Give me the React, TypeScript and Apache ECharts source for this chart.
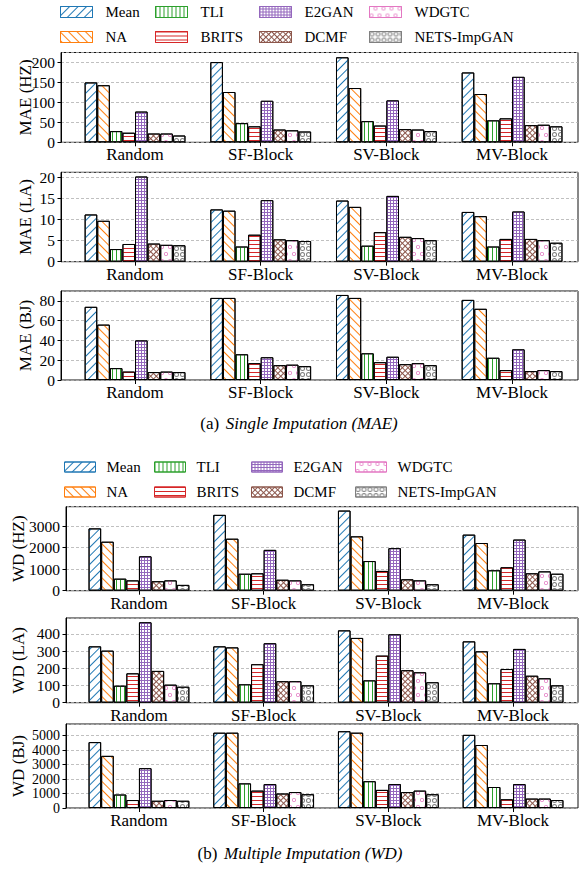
import React, { useEffect, useRef } from 'react';
import * as echarts from 'echarts';

const categories = ['Random', 'SF-Block', 'SV-Block', 'MV-Block'];
const methods = ['Mean', 'NA', 'TLI', 'BRITS', 'E2GAN', 'DCMF', 'WDGTC', 'NETS-ImpGAN'];
const colors = ['#1f77b4', '#ff7f0e', '#2ca02c', '#d62728', '#9467bd', '#8c564b', '#e377c2', '#7f7f7f'];

// rows follow `methods`, columns follow `categories`
const maeHZ = [
  [150, 201, 213, 175],
  [143, 126, 136, 121],
  [28, 48, 53, 55],
  [24, 40, 42, 60],
  [77, 104, 105, 164],
  [22, 32, 33, 43],
  [22, 30, 32, 44],
  [17, 27, 28, 40],
];
const maeLA = [
  [11.2, 12.4, 14.5, 11.8],
  [9.7, 12.1, 13.0, 10.8],
  [3.0, 3.6, 3.8, 3.6],
  [4.2, 6.4, 7.0, 5.4],
  [20.2, 14.6, 15.6, 11.9],
  [4.3, 5.3, 5.9, 5.4],
  [4.0, 5.1, 5.6, 5.1],
  [3.9, 4.9, 5.1, 4.5],
];
const maeBJ = [
  [74, 83, 86, 81],
  [56, 83, 83, 72],
  [12, 26, 27, 22.5],
  [8.5, 17, 18, 10],
  [40, 23, 23.5, 31],
  [8, 15, 16, 9],
  [8.5, 15.5, 17, 10],
  [8, 14, 15, 9],
];
const wdHZ = [
  [2900, 3530, 3730, 2610],
  [2280, 2420, 2530, 2220],
  [560, 790, 1380, 950],
  [480, 810, 920, 1090],
  [1600, 1900, 1980, 2380],
  [440, 510, 530, 810],
  [480, 480, 480, 900],
  [270, 300, 300, 790],
];
const wdLA = [
  [328, 328, 421, 357],
  [303, 322, 377, 299],
  [99, 107, 130, 113],
  [171, 224, 274, 196],
  [468, 346, 398, 313],
  [185, 125, 189, 157],
  [105, 125, 177, 142],
  [93, 101, 119, 101],
];
const wdBJ = [
  [4550, 5200, 5300, 5050],
  [3600, 5200, 5200, 4350],
  [930, 1700, 1850, 1450],
  [550, 1200, 1250, 600],
  [2750, 1650, 1650, 1650],
  [500, 1000, 1100, 650],
  [550, 1100, 1200, 650],
  [500, 950, 950, 550],
];

const panelNames = ['MAE (HZ)', 'MAE (LA)', 'MAE (BJ)', 'WD (HZ)', 'WD (LA)', 'WD (BJ)'];
const panelData = [maeHZ, maeLA, maeBJ, wdHZ, wdLA, wdBJ];
const panelMax = [225, 21.2, 90, 3910, 493, 5800];
const panelInterval = [50, 5, 20, 1000, 100, 1000];

const FONT = 'Liberation Serif';

// layout
const panelTop = [52.5, 172.3, 291, 506.7, 618, 724];
const panelHeight = [89.8, 89.4, 89, 84, 84.7, 84];
const tickFont = [15.5, 15.5, 15.5, 15.5, 15.5, 14];
const halfLayout = [
  { frameLeft: 61, barLeft: 72.2, barWidth: 502.7, nameGap: 27.5, legendX: [60, 155, 259, 369], legendTop: 4, iconW: 32, iconH: 11, textPad: 8 },
  { frameLeft: 66, barLeft: 76.6, barWidth: 498.8, nameGap: 39.5, legendX: [64, 154, 251, 355], legendTop: 459, iconW: 31, iconH: 10, textPad: 6 },
];

const ring = 'path://M0,5A5,5,0,1,0,10,5A5,5,0,1,0,0,5ZM2,5A3,3,0,1,1,8,5A3,3,0,1,1,2,5Z';
const decals: any[] = [
  { symbol: 'rect', color: colors[0], dashArrayX: [1, 0], dashArrayY: [1, 5], rotation: -Math.PI / 4 },
  { symbol: 'rect', color: colors[1], dashArrayX: [1, 0], dashArrayY: [1, 5], rotation: Math.PI / 4 },
  { symbol: 'rect', color: colors[2], dashArrayX: [1, 3], dashArrayY: [1, 0], rotation: 0 },
  { symbol: 'rect', color: colors[3], dashArrayX: [1, 0], dashArrayY: [1, 3], rotation: 0 },
  { symbol: 'rect', color: colors[4], dashArrayX: [[3, 0], [1, 2], [1, 2]], dashArrayY: [1, 0], rotation: 0 },
  { symbol: 'rect', color: colors[5], dashArrayX: [[4, 0], [1, 3], [1, 3], [1, 3]], dashArrayY: [1, 0], rotation: Math.PI / 4 },
  { symbol: ring, color: colors[6], dashArrayX: [[4, 4], [0, 4, 4, 0]], dashArrayY: [4, 3], rotation: 0 },
  { symbol: ring, color: colors[7], dashArrayX: [5, 1], dashArrayY: [5, 1], rotation: 0 },
];

function buildOption() {
  const grid: any[] = [];
  const xAxis: any[] = [];
  const yAxis: any[] = [];
  const series: any[] = [];
  const legend: any[] = [];

  panelNames.forEach((pname, p) => {
    const h = halfLayout[p < 3 ? 0 : 1];
    const top = panelTop[p];
    const height = panelHeight[p];
    grid.push({ left: h.frameLeft, right: 6, top, height, show: true, borderColor: '#111', borderWidth: 1, backgroundColor: 'transparent', outerBoundsMode: 'none' });
    grid.push({ left: h.barLeft, width: h.barWidth, top, height, show: false, outerBoundsMode: 'none' });
    const fi = 2 * p;
    const bi = 2 * p + 1;
    xAxis.push({ type: 'value', gridIndex: fi, min: 0, max: 1, show: false });
    xAxis.push({
      type: 'category', gridIndex: bi, data: categories,
      axisLine: { show: false },
      axisTick: { show: true, alignWithLabel: true, length: 4, lineStyle: { color: '#000' } },
      axisLabel: { fontFamily: FONT, fontSize: 17, color: '#000', margin: 4 },
      splitLine: { show: false },
    });
    yAxis.push({
      type: 'value', gridIndex: fi, min: 0, max: panelMax[p], interval: panelInterval[p],
      name: pname, nameLocation: 'middle', nameGap: h.nameGap, nameMoveOverlap: false,
      nameTextStyle: { fontFamily: FONT, fontSize: 17, color: '#000' },
      axisLine: { show: true, lineStyle: { color: '#000', width: 1 } },
      axisTick: { show: true, length: 3.5, lineStyle: { color: '#000' } },
      axisLabel: { fontFamily: FONT, fontSize: tickFont[p], lineHeight: 13, color: '#000', margin: 6, showMaxLabel: false, formatter: (v: number) => String(v) },
      splitLine: { show: true, lineStyle: { color: '#b0b0b0', type: [3, 2], width: 0.8 } },
    });
    yAxis.push({ type: 'value', gridIndex: bi, min: 0, max: panelMax[p], show: false, splitLine: { show: false } });

    methods.forEach((m, k) => {
      series.push({
        type: 'bar', name: m, xAxisIndex: bi, yAxisIndex: bi,
        data: panelData[p][k],
        barWidth: 12.6, barGap: '0%',
        itemStyle: { color: '#ffffff', borderColor: '#000', borderWidth: 1, decal: decals[k] },
      });
    });
  });

  halfLayout.forEach((h) => {
    for (let c = 0; c < 4; c++) {
      legend.push({
        orient: 'vertical', left: h.legendX[c], top: h.legendTop, padding: 0, itemGap: 9,
        itemWidth: h.iconW, itemHeight: h.iconH, icon: 'rect', selectedMode: false,
        data: [2 * c, 2 * c + 1].map((k) => ({ name: methods[k], itemStyle: { borderColor: colors[k], borderWidth: 1 } })),
        textStyle: { fontFamily: FONT, fontSize: 15, color: '#000', lineHeight: 16, padding: [0, 0, 0, h.textPad] },
      });
    }
  });

  const rich = {
    n: { fontFamily: FONT, fontSize: 17, fill: '#000' },
    i: { fontFamily: FONT, fontSize: 17, fontStyle: 'italic', fill: '#000' },
  };
  const graphic = [
    { type: 'text', x: 299, y: 423, style: { text: '{n|(a)}  {i|Single Imputation (MAE)}', align: 'center', verticalAlign: 'middle', rich } },
    { type: 'text', x: 300, y: 853, style: { text: '{n|(b)}  {i|Multiple Imputation (WD)}', align: 'center', verticalAlign: 'middle', rich } },
  ];

  return { animation: false, backgroundColor: '#ffffff', grid, xAxis, yAxis, series, legend, graphic };
}

export default function App() {
  const ref = useRef<HTMLDivElement>(null);
  useEffect(() => {
    if (!ref.current) return;
    const chart = echarts.init(ref.current, undefined, { renderer: 'svg' });
    chart.setOption(buildOption() as any);
    return () => chart.dispose();
  }, []);
  return <div ref={ref} style={{ position: 'fixed', left: 0, top: 0, width: 584, height: 869 }} />;
}
